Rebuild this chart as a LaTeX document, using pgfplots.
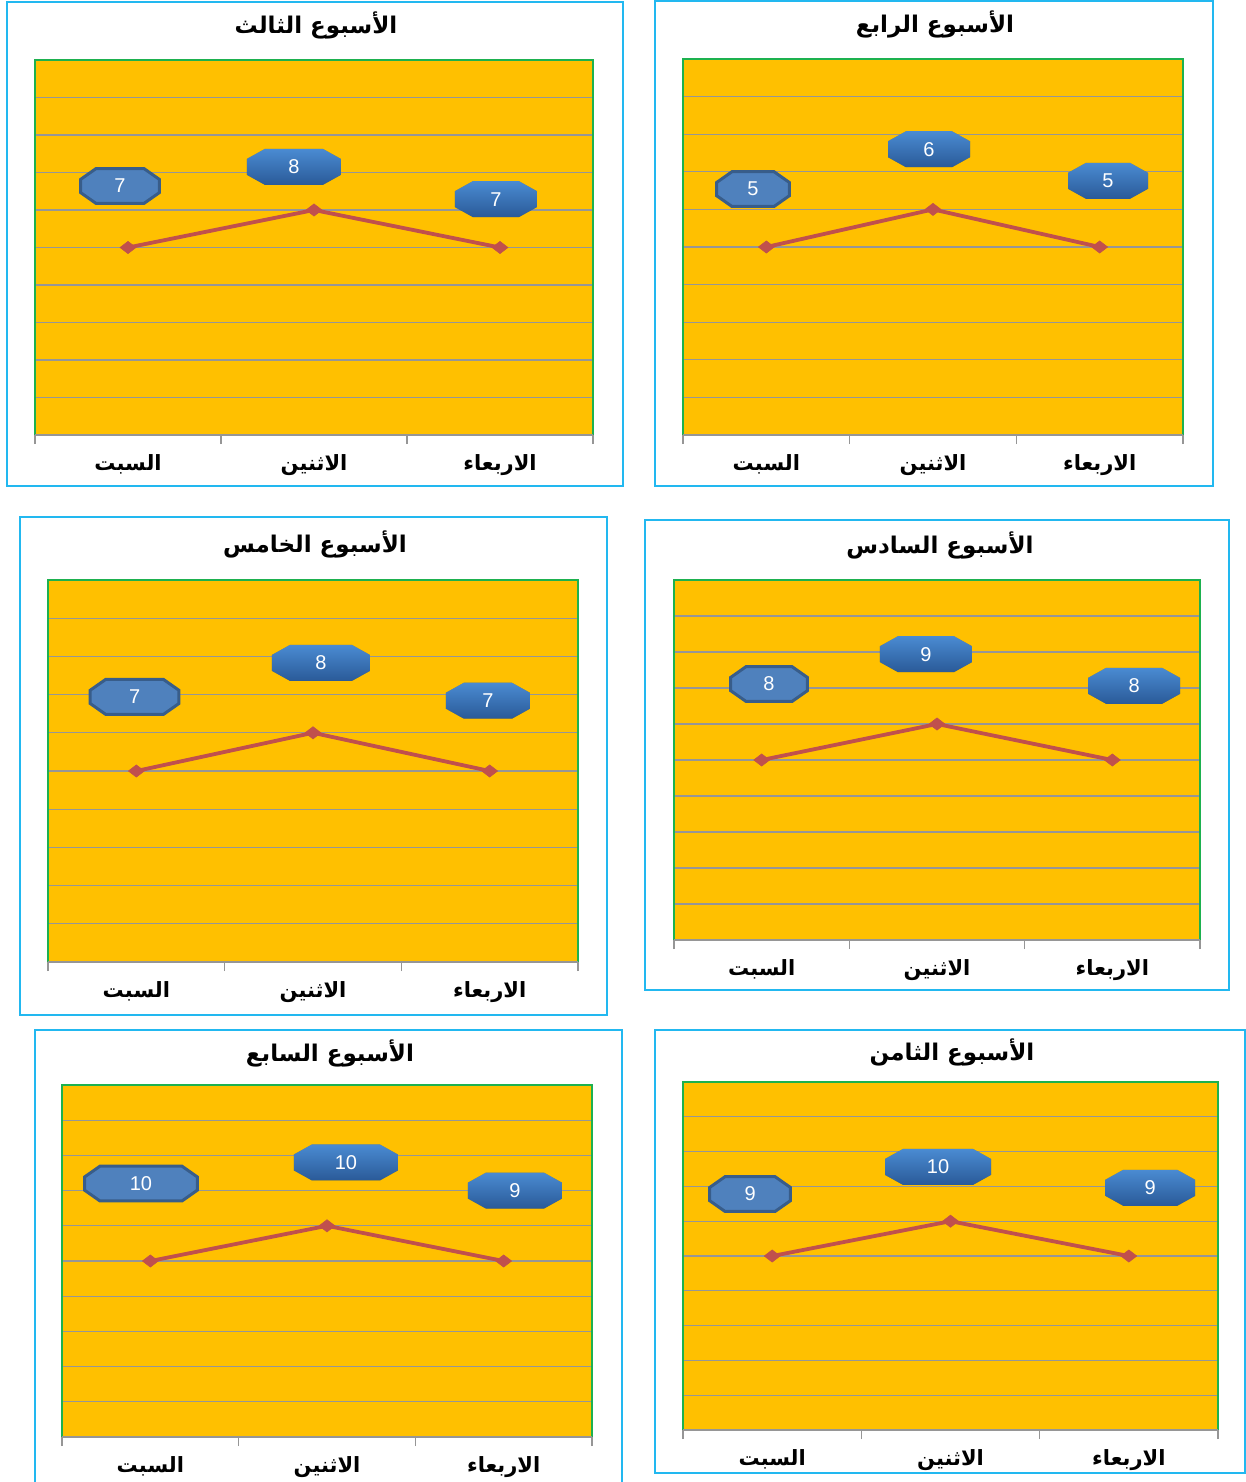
\documentclass[border=0pt]{standalone}
\usepackage{fontspec}
\setmainfont{Liberation Sans}
\newfontfamily\arabicfont[Script=Arabic]{DejaVu Sans}
\TeXXeTstate=1
\usepackage{pgfplots}
\pgfplotsset{compat=1.18}
\definecolor{orng}{HTML}{FFC000}
\definecolor{grn}{HTML}{1DB14F}
\definecolor{frm}{HTML}{22B8F0}
\definecolor{grd}{HTML}{969696}
\definecolor{lred}{HTML}{C0504D}
\definecolor{flatb}{HTML}{4F81BD}
\definecolor{flatd}{HTML}{385D8A}
\definecolor{gtop}{HTML}{4A8BD2}
\definecolor{gbot}{HTML}{2A5A98}
\newcommand\ar[1]{{\arabicfont\bfseries\beginR #1\endR}}
% octagon inside the path picture bounding box: #1 horizontal chamfer, #2 vertical chamfer, #3 inset
\newcommand\oct[3]{([xshift=#1,yshift=-#3]path picture bounding box.north west) -- ([xshift=-#1,yshift=-#3]path picture bounding box.north east) -- ([xshift=-#3,yshift=-#2]path picture bounding box.north east) -- ([xshift=-#3,yshift=#2]path picture bounding box.south east) -- ([xshift=-#1,yshift=#3]path picture bounding box.south east) -- ([xshift=#1,yshift=#3]path picture bounding box.south west) -- ([xshift=#3,yshift=#2]path picture bounding box.south west) -- ([xshift=#3,yshift=-#2]path picture bounding box.north west) -- cycle}
\pgfplotsset{
  panel/.style={
    scale only axis, anchor=north west,
    xmin=0, xmax=3, ymin=0, ymax=10,
    axis background/.style={fill=orng},
    axis line style={draw=none},
    xtick={0.5,1.5,2.5},
    xticklabels={\ar{السبت},\ar{الاثنين},\ar{الاربعاء}},
    xticklabel style={font=\fontsize{10.5}{12}\selectfont, yshift=-6pt},
    minor xtick={0,1,2,3},
    tick align=outside, xtick pos=bottom, ytick pos=left,
    major tick length=0pt, minor tick length=4.5pt,
    minor x tick style={draw=grd, line width=0.7pt},
    ytick={0,...,10}, yticklabels={}, ytick style={draw=none},
    ymajorgrids, major grid style={draw=grd, line width=0.65pt},
    clip=false,
    execute at end axis={
      \draw[grn, line width=0.9pt] (rel axis cs:0,0) -- (rel axis cs:0,1) -- (rel axis cs:1,1) -- (rel axis cs:1,0);
      \draw[grd, line width=0.8pt] (rel axis cs:0,0) -- (rel axis cs:1,0);
    },
  },
  ser/.style={color=lred, line width=1.9pt, mark=diamond*, mark size=3.2pt,
    mark options={fill=lred, draw=lred, line width=0.3pt, xscale=1.65, yscale=0.95}},
  lblA/.style={draw=none, nodes near coords, point meta=explicit symbolic,
    every node near coord/.append style={anchor=center, rectangle, draw=none, fill=none,
      path picture={\filldraw[fill=flatb, draw=flatd, line width=1.5pt] \oct{8.5pt}{6.2pt}{0.8pt};},
      text=white, font=\fontsize{10}{12}\selectfont,
      minimum width=#1, minimum height=19pt, inner sep=1pt}},
  lblB/.style={draw=none, nodes near coords, point meta=explicit symbolic,
    every node near coord/.append style={anchor=center, rectangle, draw=none, fill=none,
      path picture={\fill[black, opacity=0.22, yshift=-1.3pt, xshift=0.4pt] \oct{10.5pt}{6.5pt}{1.5pt};
        \shade[top color=gtop, bottom color=gbot] \oct{10.5pt}{6.5pt}{1.5pt};},
      text=white, font=\fontsize{10}{12}\selectfont,
      minimum width=#1, minimum height=21pt, inner sep=1pt}},
}
\tikzset{frame/.style={draw=frm, line width=1pt},
  ttl/.style={font=\fontsize{11.5}{13}\selectfont}}
\begin{document}
\begin{tikzpicture}
\path[use as bounding box] (0,0) rectangle (623pt,-741pt);
% frames
\draw[frame] (3.5pt,-1pt) rectangle (311.5pt,-243pt);
\draw[frame] (327.5pt,-0.5pt) rectangle (606.5pt,-243pt);
\draw[frame] (10pt,-258.5pt) rectangle (303.5pt,-507.5pt);
\draw[frame] (322.5pt,-260pt) rectangle (614.5pt,-495pt);
\draw[frame] (17.5pt,-515pt) rectangle (311pt,-745pt);
\draw[frame] (327.5pt,-515pt) rectangle (622.5pt,-736.5pt);
% titles
\node[ttl] at (158pt,-12.5pt) {\ar{الأسبوع الثالث}};
\node[ttl] at (467.5pt,-12pt) {\ar{الأسبوع الرابع}};
\node[ttl] at (157.5pt,-272pt) {\ar{الأسبوع الخامس}};
\node[ttl] at (470pt,-272.5pt) {\ar{الأسبوع السادس}};
\node[ttl] at (165pt,-526.5pt) {\ar{الأسبوع السابع}};
\node[ttl] at (476pt,-526pt) {\ar{الأسبوع الثامن}};

% Panel 1
\begin{axis}[panel, at={(17.5pt,-30pt)}, width=279pt, height=187.5pt]
\addplot[ser] coordinates {(0.5,5) (1.5,6) (2.5,5)};
\addplot[lblA=41pt] coordinates {(0.457,6.64)[7]};
\addplot[lblB=50pt] coordinates {(1.392,7.15)[8]};
\addplot[lblB=44pt] coordinates {(2.478,6.29)[7]};
\end{axis}
% Panel 2
\begin{axis}[panel, at={(341.5pt,-29.5pt)}, width=250pt, height=188pt]
\addplot[ser] coordinates {(0.5,5) (1.5,6) (2.5,5)};
\addplot[lblA=38pt] coordinates {(0.42,6.54)[5]};
\addplot[lblB=44pt] coordinates {(1.476,7.6)[6]};
\addplot[lblB=43pt] coordinates {(2.55,6.76)[5]};
\end{axis}
% Panel 3
\begin{axis}[panel, at={(24pt,-290pt)}, width=265pt, height=191pt]
\addplot[ser] coordinates {(0.5,5) (1.5,6) (2.5,5)};
\addplot[lblA=46pt] coordinates {(0.49,6.94)[7]};
\addplot[lblB=52pt] coordinates {(1.545,7.83)[8]};
\addplot[lblB=45pt] coordinates {(2.49,6.84)[7]};
\end{axis}
% Panel 4
\begin{axis}[panel, at={(337pt,-290pt)}, width=263pt, height=180pt]
\addplot[ser] coordinates {(0.5,5) (1.5,6) (2.5,5)};
\addplot[lblA=40pt] coordinates {(0.542,7.11)[8]};
\addplot[lblB=49pt] coordinates {(1.437,7.94)[9]};
\addplot[lblB=49pt] coordinates {(2.624,7.06)[8]};
\end{axis}
% Panel 5
\begin{axis}[panel, at={(31pt,-542.5pt)}, width=265pt, height=176pt]
\addplot[ser] coordinates {(0.5,5) (1.5,6) (2.5,5)};
\addplot[lblA=58pt] coordinates {(0.447,7.2)[10]};
\addplot[lblB=55pt] coordinates {(1.607,7.8)[10]};
\addplot[lblB=50pt] coordinates {(2.564,7.0)[9]};
\end{axis}
% Panel 6
\begin{axis}[panel, at={(341.5pt,-541pt)}, width=267.5pt, height=174pt]
\addplot[ser] coordinates {(0.5,5) (1.5,6) (2.5,5)};
\addplot[lblA=42pt] coordinates {(0.376,6.78)[9]};
\addplot[lblB=56pt] coordinates {(1.43,7.56)[10]};
\addplot[lblB=48pt] coordinates {(2.62,6.96)[9]};
\end{axis}
\end{tikzpicture}
\end{document}
